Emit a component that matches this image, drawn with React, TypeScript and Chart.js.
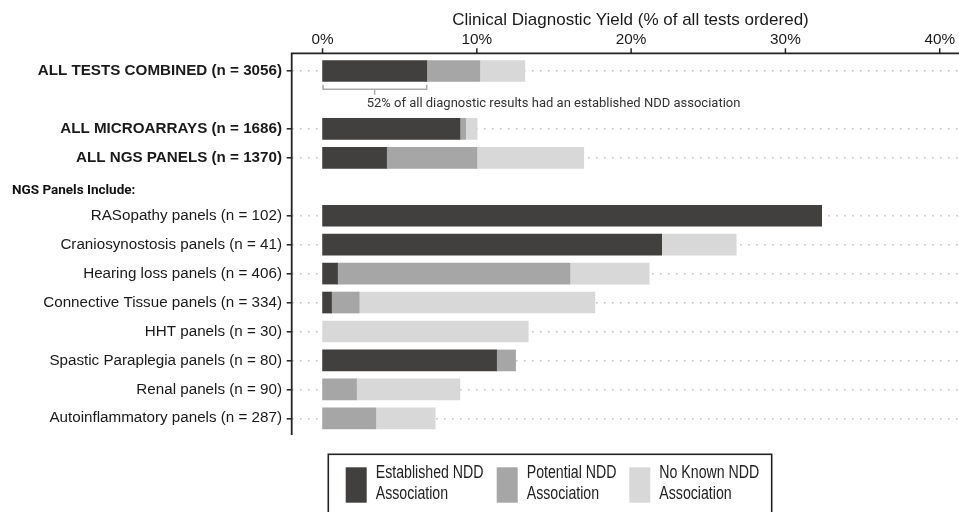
import React, { useEffect, useRef } from "react";
import { Chart, registerables } from "chart.js";

Chart.register(...registerables);

// ---- data ----
const CATEGORIES: string[] = [
  "ALL TESTS COMBINED (n = 3056)",
  "",
  "ALL MICROARRAYS (n = 1686)",
  "ALL NGS PANELS (n = 1370)",
  "",
  "RASopathy panels (n = 102)",
  "Craniosynostosis panels (n = 41)",
  "Hearing loss panels (n = 406)",
  "Connective Tissue panels (n = 334)",
  "HHT panels (n = 30)",
  "Spastic Paraplegia panels (n = 80)",
  "Renal panels (n = 90)",
  "Autoinflammatory panels (n = 287)",
];
const ESTABLISHED: (number | null)[] = [6.75, null, 8.9, 4.15, null, 32.35, 21.98, 0.97, 0.58, null, 11.28, null, null];
const POTENTIAL: (number | null)[] = [3.44, null, 0.37, 5.85, null, null, null, 15.06, 1.79, null, 1.23, 2.2, 3.45];
const NO_KNOWN: (number | null)[] = [2.92, null, 0.75, 6.93, null, null, 4.83, 5.14, 15.28, 13.33, null, 6.7, 3.85];
const SERIES_NAMES: string[] = ["Established NDD\nAssociation", "Potential NDD\nAssociation", "No Known NDD\nAssociation"];
const X_TICKS: number[] = [0, 10, 20, 30, 40];
const X_TITLE = "Clinical Diagnostic Yield (% of all tests ordered)";
const SECTION_HEADER = "NGS Panels Include:";
const ANNOTATION = "52% of all diagnostic results had an established NDD association";
const BOLD_ROWS = 4;

const COLORS = ["#42403e", "#a6a6a6", "#d8d8d8"];

const overlay = {
  id: "overlay",
  afterDraw(chart: any) {
    const ctx = chart.ctx as CanvasRenderingContext2D;
    const xs = chart.scales.x;
    const ys = chart.scales.y;
    const left = chart.chartArea.left;
    const axisY = 53.3;
    ctx.save();
    // axis title
    ctx.fillStyle = "#1a1a1a";
    ctx.font = "17px 'Liberation Sans'";
    ctx.textAlign = "center";
    ctx.textBaseline = "middle";
    ctx.fillText(X_TITLE, 630.5, 20);

    // axis lines
    ctx.strokeStyle = "#222";
    ctx.lineWidth = 1.8;
    ctx.beginPath();
    ctx.moveTo(left, axisY);
    ctx.lineTo(chart.width, axisY);
    ctx.moveTo(left, axisY - 0.9);
    ctx.lineTo(left, 435);
    ctx.stroke();
    // x tick marks
    ctx.lineWidth = 1.5;
    ctx.beginPath();
    X_TICKS.forEach((v) => {
      const px = xs.getPixelForValue(v);
      ctx.moveTo(px, axisY - 5);
      ctx.lineTo(px, axisY);
    });
    ctx.stroke();

    // section header
    ctx.fillStyle = "#111";
    ctx.font = "bold 13.5px Roboto";
    ctx.textAlign = "left";
    ctx.fillText(SECTION_HEADER, 12, 191);

    // bracket annotation
    const x0 = xs.getPixelForValue(0);
    const x1 = xs.getPixelForValue(ESTABLISHED[0] as number);
    const yRow = ys.getPixelForValue(0);
    const by = yRow + 18.3;
    const mid = (x0 + x1) / 2;
    ctx.strokeStyle = "#aaaaaa";
    ctx.lineWidth = 1.5;
    ctx.beginPath();
    ctx.moveTo(x0 + 0.5, by - 4.5);
    ctx.lineTo(x0 + 0.5, by);
    ctx.lineTo(x1, by);
    ctx.lineTo(x1, by - 4.5);
    ctx.moveTo(mid, by);
    ctx.lineTo(mid, by + 5.5);
    ctx.stroke();
    ctx.fillStyle = "#333";
    ctx.font = "13px Roboto";
    ctx.fillText(ANNOTATION, mid - 8, ys.getPixelForValue(1) + 3.4);

    // legend
    ctx.strokeStyle = "#222";
    ctx.lineWidth = 1.6;
    ctx.strokeRect(328.3, 454.3, 443.4, 80);
    const swX = [345.7, 496.7, 629.3];
    ctx.font = "17.5px 'Liberation Sans'";
    SERIES_NAMES.forEach((name, i) => {
      ctx.fillStyle = COLORS[i];
      ctx.fillRect(swX[i], 467.3, 21, 35.4);
      ctx.fillStyle = "#222";
      const lines = name.split("\n");
      lines.forEach((ln, j) => {
        ctx.save();
        ctx.translate(swX[i] + 30, 473 + j * 21.3);
        ctx.scale(0.809, 1);
        ctx.fillText(ln, 0, 0);
        ctx.restore();
      });
    });
    ctx.restore();
  },
};

export default function App() {
  const ref = useRef<HTMLCanvasElement | null>(null);
  useEffect(() => {
    document.body.style.margin = "0";
    const canvas = ref.current!;
    const chart = new Chart(canvas, {
      type: "bar",
      data: {
        labels: CATEGORIES,
        datasets: [ESTABLISHED, POTENTIAL, NO_KNOWN].map((d, i) => ({
          label: SERIES_NAMES[i].replace("\n", " "),
          data: d,
          backgroundColor: COLORS[i],
          borderWidth: 0,
          barThickness: 21,
          clip: false as any,
        })),
      },
      options: {
        animation: false,
        responsive: false,
        indexAxis: "y",
        layout: { padding: { left: 0, right: 0, top: 0, bottom: 93.7 } },
        plugins: { legend: { display: false }, tooltip: { enabled: false } },
        scales: {
          x: {
            type: "linear",
            position: "top",
            min: -2,
            max: 41.25,
            stacked: true,
            afterBuildTicks: (s: any) => {
              s.ticks = X_TICKS.map((v) => ({ value: v }));
            },
            afterFit: (s: any) => {
              s.height = 71;
              s.paddingLeft = 0;
              s.paddingRight = 0;
            },
            grid: { display: false, drawTicks: false },
            border: { display: false },
            ticks: {
              padding: 21.8,
              color: "#1a1a1a",
              font: { family: "'Liberation Sans'", size: 15.3 },
              callback: (v: any) => v + "%",
            },
          },
          y: {
            type: "category",
            offset: false,
            stacked: true,
            afterFit: (s: any) => {
              s.width = 291.7;
              s.paddingTop = 0;
              s.paddingBottom = 0;
            },
            grid: {
              offset: false,
              color: (c: any) => (CATEGORIES[c.index] ? "#c2c2c2" : "rgba(0,0,0,0)"),
              lineWidth: 1.6,
              drawTicks: true,
              tickLength: 5,
              tickColor: (c: any) => (CATEGORIES[c.index] ? "#222" : "rgba(0,0,0,0)"),
              tickWidth: 1.5,
            },
            border: { display: false, dash: [1.6, 6.4] },
            ticks: {
              autoSkip: false,
              padding: 4.7,
              color: "#1a1a1a",
              font: (c: any) => ({
                family: "'Liberation Sans'",
                size: 15.2,
                weight: c.index < BOLD_ROWS ? "bold" : "normal",
              }),
            },
          },
        },
      },
      plugins: [overlay],
    });
    return () => chart.destroy();
  }, []);
  return (
    <div style={{ width: 959, height: 512 }}>
      <canvas ref={ref} width={959} height={512} style={{ width: 959, height: 512, display: "block" }} />
    </div>
  );
}
